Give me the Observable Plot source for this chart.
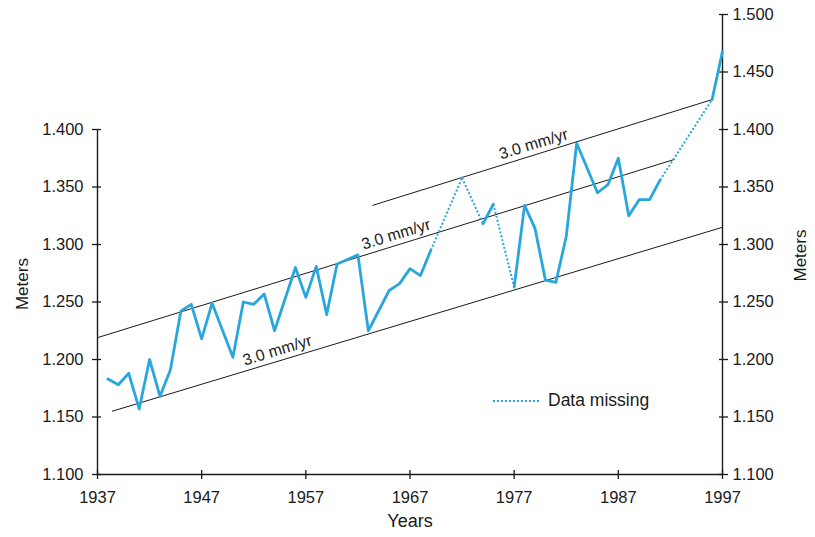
<!DOCTYPE html>
<html><head><meta charset="utf-8">
<script src="https://cdn.jsdelivr.net/npm/d3@7"></script>
<script src="https://cdn.jsdelivr.net/npm/@observablehq/plot@0.6"></script>
<style>
body{margin:0;background:#fff;font-family:"Liberation Sans",Arial,sans-serif;}
#wrap{position:relative;width:815px;height:537px;}
#legend{position:absolute;left:493px;top:390px;display:flex;align-items:center;font-size:17.5px;color:#1a1a1a;}
#legend svg{margin-right:7px;}
</style></head><body>
<div id="wrap"><div id="chart"></div>
<div id="legend"><svg width="48" height="4"><line x1="0" y1="2" x2="48" y2="2" stroke="#29a6dc" stroke-width="2" stroke-dasharray="2,2"/></svg><span>Data missing</span></div>
</div>
<script>
const years = [1938,1939,1940,1941,1942,1943,1944,1945,1946,1947,1948,1950,1951,1952,1953,1954,1956,1957,1958,1959,1960,1961,1962,1963,1965,1966,1967,1968,1969,1972,1974,1975,1977,1978,1979,1980,1981,1982,1983,1985,1986,1987,1988,1989,1990,1991,1996,1997];
const values = [1.183,1.178,1.188,1.157,1.200,1.168,1.191,1.242,1.248,1.218,1.249,1.202,1.250,1.248,1.257,1.225,1.280,1.254,1.281,1.239,1.283,1.287,1.291,1.225,1.260,1.266,1.279,1.273,1.295,1.358,1.318,1.335,1.263,1.334,1.314,1.269,1.267,1.307,1.388,1.345,1.352,1.375,1.325,1.339,1.339,1.356,1.426,1.468];
const missingYears = [1970,1971,1973,1976,1992,1993,1994,1995];

const xTicks = [1937,1947,1957,1967,1977,1987,1997];
const leftTicks = [1.100,1.150,1.200,1.250,1.300,1.350,1.400];
const rightTicks = [1.100,1.150,1.200,1.250,1.300,1.350,1.400,1.450,1.500];

const trendStartYear = [1938.4, 1937.0, 1963.4];
const trendStartValue = [1.155, 1.219, 1.334];
const trendEndYear = [1997.0, 1992.4, 1996.0];
const trendEndValue = [1.315, 1.374, 1.426];
const trendLabelYear = [1954.4, 1965.8, 1979.0];
const trendLabelText = ["3.0 mm/yr","3.0 mm/yr","3.0 mm/yr"];

const blue = "#29a6dc";
const ink = "#1a1a1a";

const pts = years.map((y,i)=>({year:y, value:values[i]}));
const segs = [];
for (let i=0;i<pts.length-1;i++){
  const a=pts[i], b=pts[i+1];
  segs.push({x1:a.year,y1:a.value,x2:b.year,y2:b.value,missing:missingYears.some(m=>m>a.year&&m<b.year)});
}
let run=0;
const solid = pts.map((p,i)=>{ if(i>0 && segs[i-1].missing) run++; return {...p, run}; });
const dotted = segs.filter(d=>d.missing);

const trends = trendStartYear.map((_,i)=>({x1:trendStartYear[i],y1:trendStartValue[i],x2:trendEndYear[i],y2:trendEndValue[i]}));
const labels = trendLabelYear.map((yr,i)=>{
  const t=trends[i];
  const v=t.y1+(t.y2-t.y1)*(yr-t.x1)/(t.x2-t.x1);
  return {year:yr, value:v+0.005, text:trendLabelText[i]};
});

const fmt = d3.format(".3f");
const chart = Plot.plot({
  width:815, height:537,
  marginLeft:97, marginRight:93, marginTop:14, marginBottom:63,
  x:{domain:[xTicks[0], xTicks[xTicks.length-1]]},
  y:{domain:[rightTicks[0], rightTicks[rightTicks.length-1]]},
  style:{fontFamily:'"Liberation Sans", Arial, sans-serif', fontSize:"16px", color:ink, background:"#fff"},
  marks:[
    Plot.ruleY([rightTicks[0]],{stroke:ink,strokeWidth:1.4}),
    Plot.ruleX([xTicks[0]],{y1:()=>leftTicks[0],y2:()=>leftTicks[leftTicks.length-1],stroke:ink,strokeWidth:1.4}),
    Plot.ruleX([xTicks[xTicks.length-1]],{y1:()=>rightTicks[0],y2:()=>rightTicks[rightTicks.length-1],stroke:ink,strokeWidth:1.4}),
    Plot.axisX({anchor:"bottom",ticks:xTicks,tickSize:9,dy:-4,stroke:ink,strokeWidth:1.3,fill:"none",label:null}),
    Plot.axisX({anchor:"bottom",ticks:xTicks,tickFormat:d=>String(d),tickSize:0,tickPadding:17,fill:ink,fontSize:16.5,label:null}),
    Plot.axisY({anchor:"left",ticks:leftTicks,tickSize:9,dx:4,stroke:ink,strokeWidth:1.3,fill:"none",label:null}),
    Plot.axisY({anchor:"left",ticks:leftTicks,tickFormat:fmt,tickSize:0,tickPadding:14,fill:ink,fontSize:16.5,label:null}),
    Plot.axisY({anchor:"right",ticks:rightTicks,tickSize:9,dx:-4,stroke:ink,strokeWidth:1.3,fill:"none",label:null}),
    Plot.axisY({anchor:"right",ticks:rightTicks,tickFormat:fmt,tickSize:0,tickPadding:10,fill:ink,fontSize:16.5,label:null}),
    Plot.link(trends,{x1:"x1",y1:"y1",x2:"x2",y2:"y2",stroke:ink,strokeWidth:1}),
    Plot.text(labels,{x:"year",y:"value",text:"text",rotate:-17,lineAnchor:"bottom",textAnchor:"middle",fontSize:16,fill:ink}),
    Plot.link(dotted,{x1:"x1",y1:"y1",x2:"x2",y2:"y2",stroke:blue,strokeWidth:2,strokeDasharray:"2,2"}),
    Plot.line(solid,{x:"year",y:"value",z:"run",stroke:blue,strokeWidth:2.8,strokeLinejoin:"round"}),
    Plot.text(["Meters"],{frameAnchor:"left",y:()=>1.243,dx:-75,rotate:-90,fontSize:17,fill:ink}),
    Plot.text(["Meters"],{frameAnchor:"right",y:()=>1.313,dx:78,rotate:-90,fontSize:17,fill:ink}),
    Plot.text(["Years"],{frameAnchor:"bottom",x:()=>1967,dy:52,fontSize:18,fill:ink})
  ]
});
document.getElementById("chart").appendChild(chart);
</script>
</body></html>
